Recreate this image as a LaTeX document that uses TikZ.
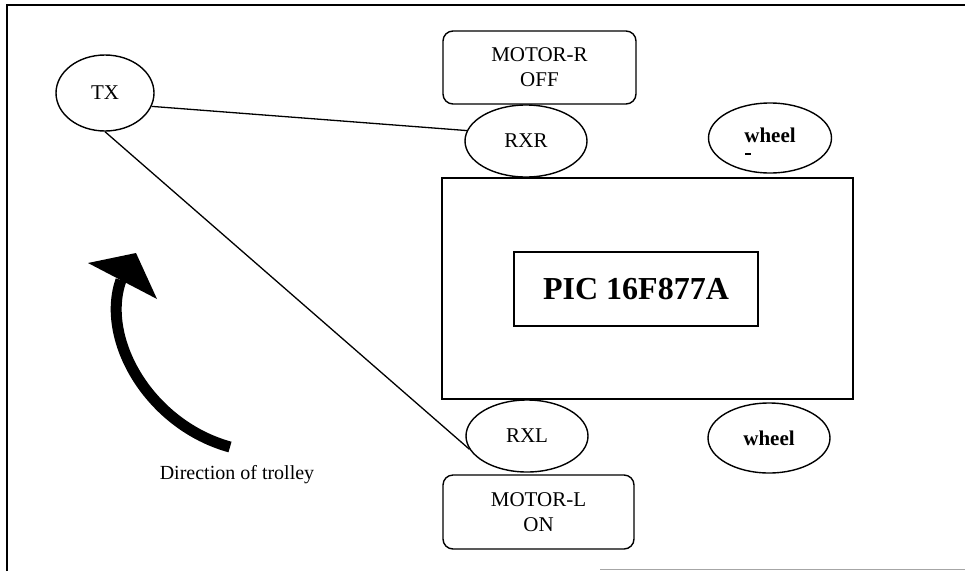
\documentclass[tikz,border=0pt]{standalone}
\usepackage{fontspec}
\setmainfont{Liberation Serif}
\usetikzlibrary{shapes.geometric}
\tikzset{
  lbl/.style={font=\fontsize{21}{25}\selectfont, align=center},
  oval/.style={draw, line width=1.4pt, ellipse, inner sep=0pt, lbl},
  motorbox/.style={draw, line width=1.4pt, rounded corners=10pt, inner sep=0pt, lbl},
  frameline/.style={line width=1.4pt},
  wire/.style={line width=1.3pt},
}
\begin{document}
\begin{tikzpicture}[x=1pt, y=-1pt]
\useasboundingbox (0,0) rectangle (965,571);
% frame
\draw[frameline] (7,571) -- (7,5) -- (965,5);
\draw[line width=0.9pt, gray!70] (600,569) -- (965,569);

% main board
\node[draw, line width=1.4pt, minimum width=411pt, minimum height=221pt, inner sep=0pt] (board) at (647.5,288.5) {};
\node[draw, line width=1.4pt, minimum width=244pt, minimum height=74pt, inner sep=0pt,
      font=\fontsize{32}{36}\selectfont\bfseries] (pic) at (636,289) {PIC 16F877A};

% receivers, wheels
\node[oval, minimum width=98pt, minimum height=76pt] (tx) at (105,93) {TX};
\node[oval, minimum width=122pt, minimum height=72pt] (rxr) at (526,141) {RXR};
\node[oval, minimum width=122pt, minimum height=72pt] (rxl) at (527,436) {RXL};
\node[oval, minimum width=123pt, minimum height=70pt, font=\fontsize{21}{25}\selectfont\bfseries] (wheeltop) at (770,138) {\raisebox{5pt}{wheel}};
\node[oval, minimum width=122pt, minimum height=70pt, font=\fontsize{21}{25}\selectfont\bfseries] (wheelbot) at (769,438) {wheel};
\coordinate (tick) at (748,154);
\draw[line width=1.3pt] ([xshift=-3pt]tick) -- ([xshift=3pt]tick);

% motors
\node[motorbox, minimum width=193pt, minimum height=73pt] (motr) at (539.5,67.5) {MOTOR-R\\OFF};
\node[motorbox, minimum width=191pt, minimum height=74pt] (motl) at (538.5,512) {MOTOR-L\\ON};

% wires
\draw[wire] (tx.-16) -- (rxr.170);
\draw[wire] (tx.-90) -- (rxl.-167);

% direction arrow
\coordinate (arrowstart) at (230,447);
\coordinate (arrowend) at (121,280);
\draw[line width=11pt] (arrowstart) .. controls (150,425) and (100,340) .. (arrowend);
\fill (88,263) -- (136,253) -- (157,299) -- cycle;
\node[font=\fontsize{20}{24}\selectfont] (dirlabel) at (237,475) {Direction of trolley};
\end{tikzpicture}
\end{document}
